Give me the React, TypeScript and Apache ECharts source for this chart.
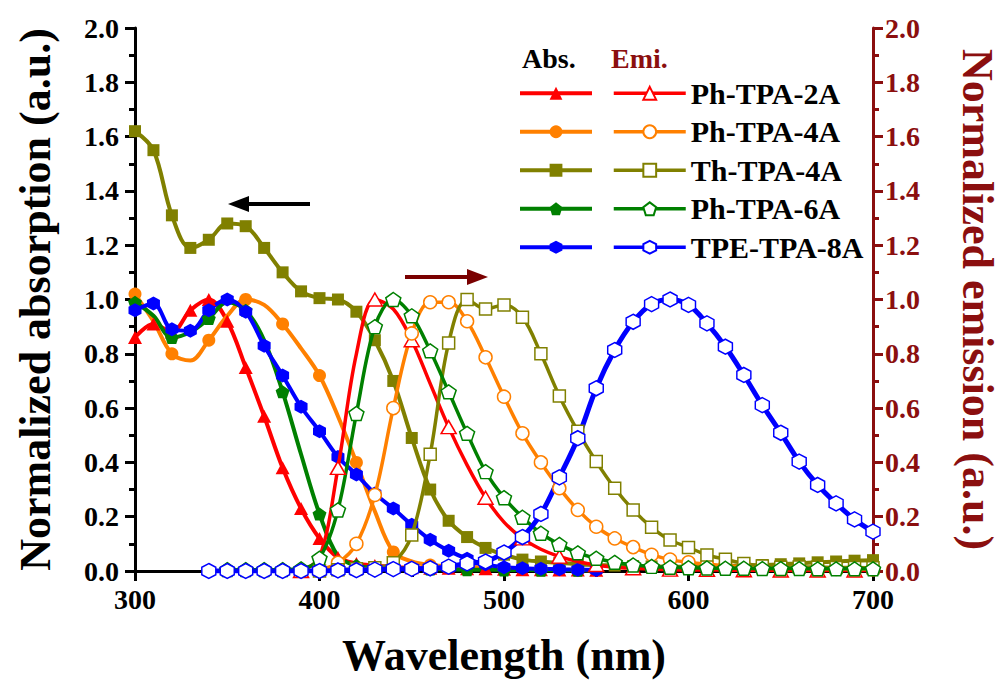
import { useEffect, useRef } from 'react';
import * as echarts from 'echarts';

// ---------- data ----------
const absWl = [300, 310, 320, 330, 340, 350, 360, 370, 380, 390, 400, 410, 420, 430, 440, 450, 460, 470, 480, 490, 500, 510, 520, 530, 540, 550];
const redAbs = [0.86, 0.91, 0.88, 0.96, 1.0, 0.92, 0.75, 0.57, 0.38, 0.23, 0.12, 0.05, 0.028, 0.02, 0.015, 0.012, 0.01, 0.01, 0.008, 0.008, 0.006, 0.005, 0.005, 0.004, 0.004, 0.003];
const orangeAbs = [1.02, 0.92, 0.8, 0.775, 0.85, 0.94, 1.0, 0.98, 0.91, 0.82, 0.72, 0.57, 0.4, 0.22, 0.07, 0.035, 0.022, 0.018, 0.015, 0.012, 0.01, 0.008, 0.006, 0.005, 0.004, 0.003];
const greenAbs = [0.99, 0.94, 0.86, 0.88, 0.93, 0.99, 0.96, 0.85, 0.66, 0.43, 0.21, 0.055, 0.02, 0.012, 0.01, 0.008, 0.007, 0.006, 0.005, 0.005, 0.004, 0.004, 0.003, 0.003, 0.003, 0.002];
const blueAbs = [0.96, 0.985, 0.89, 0.885, 0.96, 1.0, 0.955, 0.83, 0.72, 0.605, 0.515, 0.42, 0.355, 0.285, 0.23, 0.17, 0.115, 0.075, 0.045, 0.025, 0.014, 0.01, 0.008, 0.006, 0.005, 0.004];

const thAbsWl = [300, 310, 320, 330, 340, 350, 360, 370, 380, 390, 400, 410, 420, 430, 440, 450, 460, 470, 480, 490, 500, 510, 520, 530, 540, 550, 560, 570, 580, 590, 600, 610, 620, 630, 640, 650, 660, 670, 680, 690, 700];
const thAbs = [1.62, 1.55, 1.31, 1.19, 1.22, 1.28, 1.27, 1.19, 1.1, 1.03, 1.005, 1.0, 0.955, 0.85, 0.7, 0.49, 0.3, 0.185, 0.125, 0.085, 0.06, 0.042, 0.035, 0.03, 0.025, 0.022, 0.02, 0.018, 0.017, 0.016, 0.016, 0.017, 0.018, 0.02, 0.022, 0.025, 0.028, 0.032, 0.035, 0.038, 0.04];

const redEmWl = [390, 400, 410, 420, 430, 440, 450, 460, 470, 480, 490, 500, 510, 520, 530, 540, 550, 560, 570, 580, 590, 600, 610, 620, 630, 640, 650, 660, 670, 680, 690, 700];
const redEm = [0.0, 0.05, 0.38, 0.8, 1.0, 0.965, 0.85, 0.69, 0.53, 0.39, 0.27, 0.18, 0.12, 0.08, 0.053, 0.035, 0.022, 0.014, 0.01, 0.007, 0.005, 0.004, 0.004, 0.003, 0.003, 0.003, 0.002, 0.002, 0.002, 0.002, 0.002, 0.002];

const orangeEmWl = [390, 400, 410, 420, 430, 440, 450, 460, 470, 480, 490, 500, 510, 520, 530, 540, 550, 560, 570, 580, 590, 600, 610, 620, 630, 640, 650, 660, 670, 680, 690, 700];
const orangeEm = [0.0, 0.005, 0.03, 0.1, 0.28, 0.6, 0.875, 0.99, 0.99, 0.92, 0.787, 0.642, 0.507, 0.4, 0.305, 0.225, 0.163, 0.12, 0.088, 0.06, 0.042, 0.032, 0.025, 0.02, 0.016, 0.013, 0.011, 0.01, 0.009, 0.008, 0.007, 0.006];

const thEmWl = [400, 410, 420, 430, 440, 450, 460, 470, 480, 490, 500, 510, 520, 530, 540, 550, 560, 570, 580, 590, 600, 610, 620, 630, 640, 650, 660, 670, 680, 690, 700];
const thEm = [0.0, 0.005, 0.008, 0.012, 0.03, 0.133, 0.43, 0.84, 1.0, 0.965, 0.98, 0.935, 0.8, 0.645, 0.515, 0.403, 0.305, 0.225, 0.161, 0.114, 0.087, 0.059, 0.043, 0.028, 0.018, 0.014, 0.015, 0.014, 0.013, 0.013, 0.012];

const greenEmWl = [350, 360, 370, 380, 390, 400, 410, 420, 430, 440, 450, 460, 470, 480, 490, 500, 510, 520, 530, 540, 550, 560, 570, 580, 590, 600, 610, 620, 630, 640, 650, 660, 670, 680, 690, 700];
const greenEm = [0.005, 0.005, 0.005, 0.005, 0.008, 0.047, 0.225, 0.58, 0.9, 1.0, 0.94, 0.811, 0.66, 0.507, 0.366, 0.27, 0.198, 0.139, 0.098, 0.067, 0.047, 0.032, 0.022, 0.017, 0.014, 0.012, 0.011, 0.01, 0.01, 0.009, 0.009, 0.009, 0.008, 0.008, 0.008, 0.008];

const blueEmWl = [340, 350, 360, 370, 380, 390, 400, 410, 420, 430, 440, 450, 460, 470, 480, 490, 500, 510, 520, 530, 540, 550, 560, 570, 580, 590, 600, 610, 620, 630, 640, 650, 660, 670, 680, 690, 700];
const blueEm = [0.0, 0.0, 0.0, 0.0, 0.0, 0.0, 0.0, 0.002, 0.003, 0.005, 0.007, 0.008, 0.01, 0.016, 0.028, 0.035, 0.068, 0.125, 0.21, 0.345, 0.489, 0.673, 0.814, 0.918, 0.983, 1.0, 0.98, 0.912, 0.826, 0.722, 0.611, 0.509, 0.403, 0.317, 0.249, 0.19, 0.145];

const compounds = ['Ph-TPA-2A', 'Ph-TPA-4A', 'Th-TPA-4A', 'Ph-TPA-6A', 'TPE-TPA-8A'];
const colors = ['#ff0000', '#ff8000', '#808000', '#008000', '#0000ff'];
const yTicks = [0, 0.2, 0.4, 0.6, 0.8, 1.0, 1.2, 1.4, 1.6, 1.8, 2.0];
const xTicks = [300, 400, 500, 600, 700];

const FONT = "'Liberation Serif', 'Times New Roman', serif";
const DARKRED = '#8b0f0f';

const PENT = 'path://M0,-10L9.51,-3.09L5.88,8.09L-5.88,8.09L-9.51,-3.09Z';
const HEX = 'path://M0,-10L8.66,-5L8.66,5L0,10L-8.66,5L-8.66,-5Z';

const symbols = ['triangle', 'circle', 'rect', PENT, HEX];
const absSizes: number[][] = [[14, 13], [13, 13], [12, 12], [14, 13], [13, 14]];
const emSizes: number[][] = [[15, 13], [13, 13], [12, 12], [15, 14], [14, 15]];

export default function App() {
  const ref = useRef<HTMLDivElement>(null);
  useEffect(() => {
    if (!ref.current) return;
    const chart = echarts.init(ref.current, null, { renderer: 'svg' });

    const absSets = [
      { wl: absWl, v: redAbs, every: 10, off: 0 },
      { wl: absWl, v: orangeAbs, every: 20, off: 0 },
      { wl: thAbsWl, v: thAbs, every: 10, off: 0 },
      { wl: absWl, v: greenAbs, every: 20, off: 0 },
      { wl: absWl, v: blueAbs, every: 10, off: 0 },
    ];
    const emSets = [
      { wl: redEmWl, v: redEm, every: 20, off: 10 },
      { wl: orangeEmWl, v: orangeEm, every: 10, off: 0 },
      { wl: thEmWl, v: thEm, every: 10, off: 0 },
      { wl: greenEmWl, v: greenEm, every: 10, off: 0 },
      { wl: blueEmWl, v: blueEm, every: 10, off: 0 },
    ];

    const series: any[] = [];
    absSets.forEach((s, i) => {
      const size = absSizes[i];
      series.push({
        name: compounds[i] + ' Abs',
        type: 'line',
        xAxisIndex: 0,
        yAxisIndex: 0,
        data: s.wl.map((w, k) => [w, s.v[k]]),
        smooth: 0.35,
        symbol: symbols[i],
        symbolSize: (val: number[]) => (((val[0] - 300 - s.off) % s.every) === 0 ? size : [0, 0]),
        showAllSymbol: true,
        lineStyle: { color: colors[i], width: 4 },
        itemStyle: { color: colors[i] },
        z: 2,
      });
    });
    emSets.forEach((s, i) => {
      const size = emSizes[i];
      series.push({
        name: compounds[i] + ' Emi',
        type: 'line',
        xAxisIndex: 0,
        yAxisIndex: 1,
        data: s.wl.map((w, k) => [w, s.v[k]]),
        smooth: 0.35,
        symbol: symbols[i],
        symbolSize: (val: number[]) => (((val[0] - 300 - s.off) % s.every) === 0 ? size : [0, 0]),
        showAllSymbol: true,
        lineStyle: { color: colors[i], width: i === 4 ? 5 : 3.5 },
        itemStyle: { color: '#ffffff', borderColor: colors[i], borderWidth: 1.5 },
        z: 3,
      });
    });

    const labelStyle = { fontFamily: FONT, fontWeight: 'bold' as const, fontSize: 28, color: '#000' };

    chart.setOption({
      animation: false,
      backgroundColor: '#ffffff',
      grid: { left: 135, right: 119, top: 28, bottom: 120, containLabel: false },
      legend: [
        {
          data: compounds.map((c) => c + ' Abs'),
          orient: 'vertical',
          left: 518,
          top: 74,
          padding: 0,
          itemWidth: 72,
          itemHeight: 16,
          itemGap: 0,
          selectedMode: false,
          formatter: () => ' ',
          lineStyle: { width: 4 },
          textStyle: { fontFamily: FONT, fontSize: 30, lineHeight: 38.5, color: '#000' },
        },
        {
          data: compounds.map((c) => c + ' Emi'),
          orient: 'vertical',
          left: 612,
          top: 74,
          padding: 0,
          itemWidth: 72,
          itemHeight: 16,
          itemGap: 0,
          selectedMode: false,
          formatter: (n: string) => n.replace(' Emi', ''),
          lineStyle: { width: 3.5 },
          textStyle: { fontFamily: FONT, fontWeight: 'bold', fontSize: 30, lineHeight: 38.5, color: '#000' },
        },
      ],
      xAxis: [
        {
          type: 'value',
          position: 'bottom',
          min: xTicks[0],
          max: xTicks[xTicks.length - 1],
          interval: 100,
          axisLine: { show: true, lineStyle: { color: '#000', width: 3 } },
          axisTick: { show: true, inside: false, length: 10, lineStyle: { color: '#000', width: 3 } },
          minorTick: { show: true, splitNumber: 2, length: 6, lineStyle: { color: '#000', width: 3 } },
          splitLine: { show: false },
          axisLabel: { ...labelStyle, margin: 14 },
          name: 'Wavelength (nm)',
          nameLocation: 'middle',
          nameGap: 62,
          nameTextStyle: { fontFamily: FONT, fontWeight: 'bold', fontSize: 44, color: '#000' },
        },
        {
          type: 'value',
          position: 'top',
          min: 300,
          max: 700,
          interval: 100,
          axisLine: { show: true, lineStyle: { color: '#000', width: 3 } },
          axisTick: { show: false },
          axisLabel: { show: false },
          splitLine: { show: false },
        },
      ],
      yAxis: [
        {
          type: 'value',
          position: 'left',
          min: yTicks[0],
          max: yTicks[yTicks.length - 1],
          interval: 0.2,
          axisLine: { show: true, lineStyle: { color: '#000', width: 3 } },
          axisTick: { show: true, inside: false, length: 10, lineStyle: { color: '#000', width: 3 } },
          minorTick: { show: true, splitNumber: 2, length: 6, lineStyle: { color: '#000', width: 3 } },
          splitLine: { show: false },
          axisLabel: { ...labelStyle, margin: 16, formatter: (v: number) => v.toFixed(1) },
          name: 'Normalized absorption (a.u.)',
          nameLocation: 'middle',
          nameGap: 78,
          nameTextStyle: { fontFamily: FONT, fontWeight: 'bold', fontSize: 44, color: '#000' },
        },
        {
          type: 'value',
          position: 'right',
          min: yTicks[0],
          max: yTicks[yTicks.length - 1],
          interval: 0.2,
          axisLine: { show: true, lineStyle: { color: DARKRED, width: 3 } },
          axisTick: { show: true, inside: false, length: 10, lineStyle: { color: DARKRED, width: 3 } },
          minorTick: { show: true, splitNumber: 2, length: 6, lineStyle: { color: DARKRED, width: 3 } },
          splitLine: { show: false },
          axisLabel: { ...labelStyle, color: DARKRED, margin: 12, formatter: (v: number) => v.toFixed(1) },
          name: 'Normalized emission (a.u.)',
          nameLocation: 'middle',
          nameGap: 82,
          nameRotate: -90,
          nameTextStyle: { fontFamily: FONT, fontWeight: 'bold', fontSize: 44, color: DARKRED },
        },
      ],
      graphic: [
        { type: 'text', left: 522, top: 44, style: { text: 'Abs.', fontFamily: FONT, fontWeight: 'bold', fontSize: 28, fill: '#000' } },
        { type: 'text', left: 611, top: 44, style: { text: 'Emi.', fontFamily: FONT, fontWeight: 'bold', fontSize: 28, fill: DARKRED } },
        { type: 'line', shape: { x1: 244, y1: 204, x2: 310, y2: 204 }, style: { stroke: '#000', lineWidth: 4 } },
        { type: 'polygon', shape: { points: [[228, 204], [249, 196], [249, 212]] }, style: { fill: '#000' } },
        { type: 'line', shape: { x1: 405, y1: 277, x2: 470, y2: 277 }, style: { stroke: '#7a0000', lineWidth: 4 } },
        { type: 'polygon', shape: { points: [[488, 277], [467, 269], [467, 285]] }, style: { fill: '#7a0000' } },
      ],
      series,
    });

    return () => chart.dispose();
  }, []);

  return <div ref={ref} style={{ position: 'fixed', left: 0, top: 0, width: 1007, height: 691, background: '#fff' }} />;
}
